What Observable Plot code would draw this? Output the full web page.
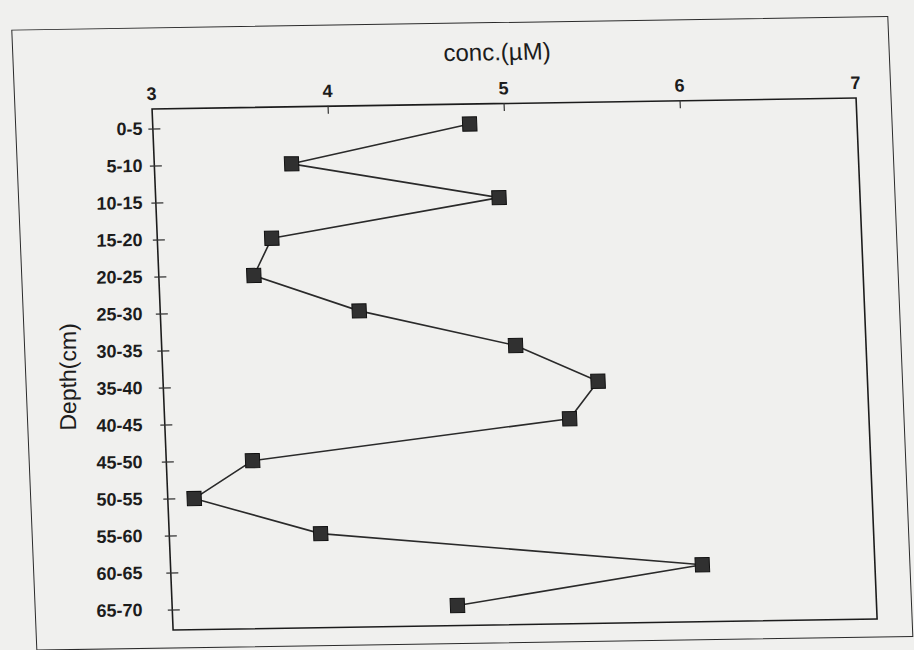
<!DOCTYPE html>
<html>
<head>
<meta charset="utf-8">
<script src="https://cdn.jsdelivr.net/npm/d3@7"></script>
<script src="https://cdn.jsdelivr.net/npm/@observablehq/plot@0.6"></script>
<style>
  html, body { margin: 0; padding: 0; background: #f0f0ee; }
  #page { position: relative; width: 914px; height: 650px; overflow: hidden; background: #f0f0ee; }
  /* the scanned figure is slightly rotated/sheared */
  #sheet { position: absolute; left: 0; top: 0; width: 914px; height: 650px;
           transform-origin: 514px 362px; transform: matrix(1, -0.0156, 0.0404, 1, 0, 0); }
  #border { position: absolute; left: 25px; top: 22px; width: 875px; height: 619px; border: 1.6px solid #2a2a2a; }
  #chart { position: absolute; left: 0; top: 0; }
  svg { font-family: "Liberation Sans", Arial, sans-serif; }
</style>
</head>
<body>
<div id="page"><div id="sheet"><div id="border"></div><div id="chart"></div></div></div>
<script>
const depths = ["0-5","5-10","10-15","15-20","20-25","25-30","30-35","35-40","40-45","45-50","50-55","55-60","60-65","65-70"];
const conc   = [4.80, 3.78, 4.95, 3.65, 3.54, 4.13, 5.01, 5.47, 5.30, 3.49, 3.15, 3.86, 6.02, 4.62];
const xTicks = [3, 4, 5, 6, 7];
const xLabel = "conc.(µM)";
const yLabel = "Depth(cm)";

const data = depths.map((d, i) => ({depth: d, conc: conc[i]}));

const plot = Plot.plot({
  width: 914,
  height: 650,
  marginTop: 103,
  marginBottom: 26,
  marginLeft: 162,
  marginRight: 48,
  style: {background: "transparent", color: "#1c1c1c"},
  x: {domain: [3, 7], ticks: xTicks, tickFormat: d3.format("d")},
  y: {type: "point", domain: depths, padding: 0.5},
  marks: [
    Plot.frame({stroke: "#1c1c1c", strokeWidth: 1.6}),
    Plot.axisX({anchor: "top", ticks: xTicks, tickFormat: d3.format("d"), tickSize: 0, tickPadding: 9,
      fontSize: 18, fontWeight: "bold", label: null}),
    Plot.axisY({anchor: "left", tickSize: 0, tickPadding: 20,
      fontSize: 18, fontWeight: "bold", label: null}),
    Plot.text([xLabel], {text: d => d, frameAnchor: "top", dx: -5, dy: -51, lineAnchor: "middle", textAnchor: "middle",
      fontSize: 24, fill: "#1c1c1c", letterSpacing: "1.5px"}),
    Plot.text([yLabel], {text: d => d, frameAnchor: "left", dx: -94, dy: 6, rotate: -90, lineAnchor: "middle", textAnchor: "middle",
      fontSize: 23, fill: "#1c1c1c", letterSpacing: "1px", className: "ylab"}),
    Plot.ruleX([4, 5, 6], {x: d => d, stroke: "#333", strokeWidth: 1.2, insetBottom: 513}),
    Plot.ruleY(depths, {y: d => d, stroke: "#333", strokeWidth: 1.2, insetRight: 696, insetLeft: -4}),
    Plot.line(data, {x: "conc", y: "depth", stroke: "#2a2a2a", strokeWidth: 1.6}),
    Plot.dot(data, {x: "conc", y: "depth", symbol: "square", r: 8, fill: "#303030", stroke: "#111", strokeWidth: 1})
  ]
});

// In the scan the y tick labels and the y title stand upright, while the frame is sheared:
// undo the horizontal shear for those groups only.
const ns = "http://www.w3.org/2000/svg";
[plot.querySelector('g[aria-label="y-axis tick label"]'), plot.querySelector('g.ylab')].forEach(g => {
  if (!g) return;
  const wrap = document.createElementNS(ns, "g");
  wrap.setAttribute("transform", "matrix(1,0,-0.0404,1,14.62,0)");
  g.parentNode.insertBefore(wrap, g);
  wrap.appendChild(g);
});

document.getElementById("chart").appendChild(plot);
</script>
</body>
</html>
